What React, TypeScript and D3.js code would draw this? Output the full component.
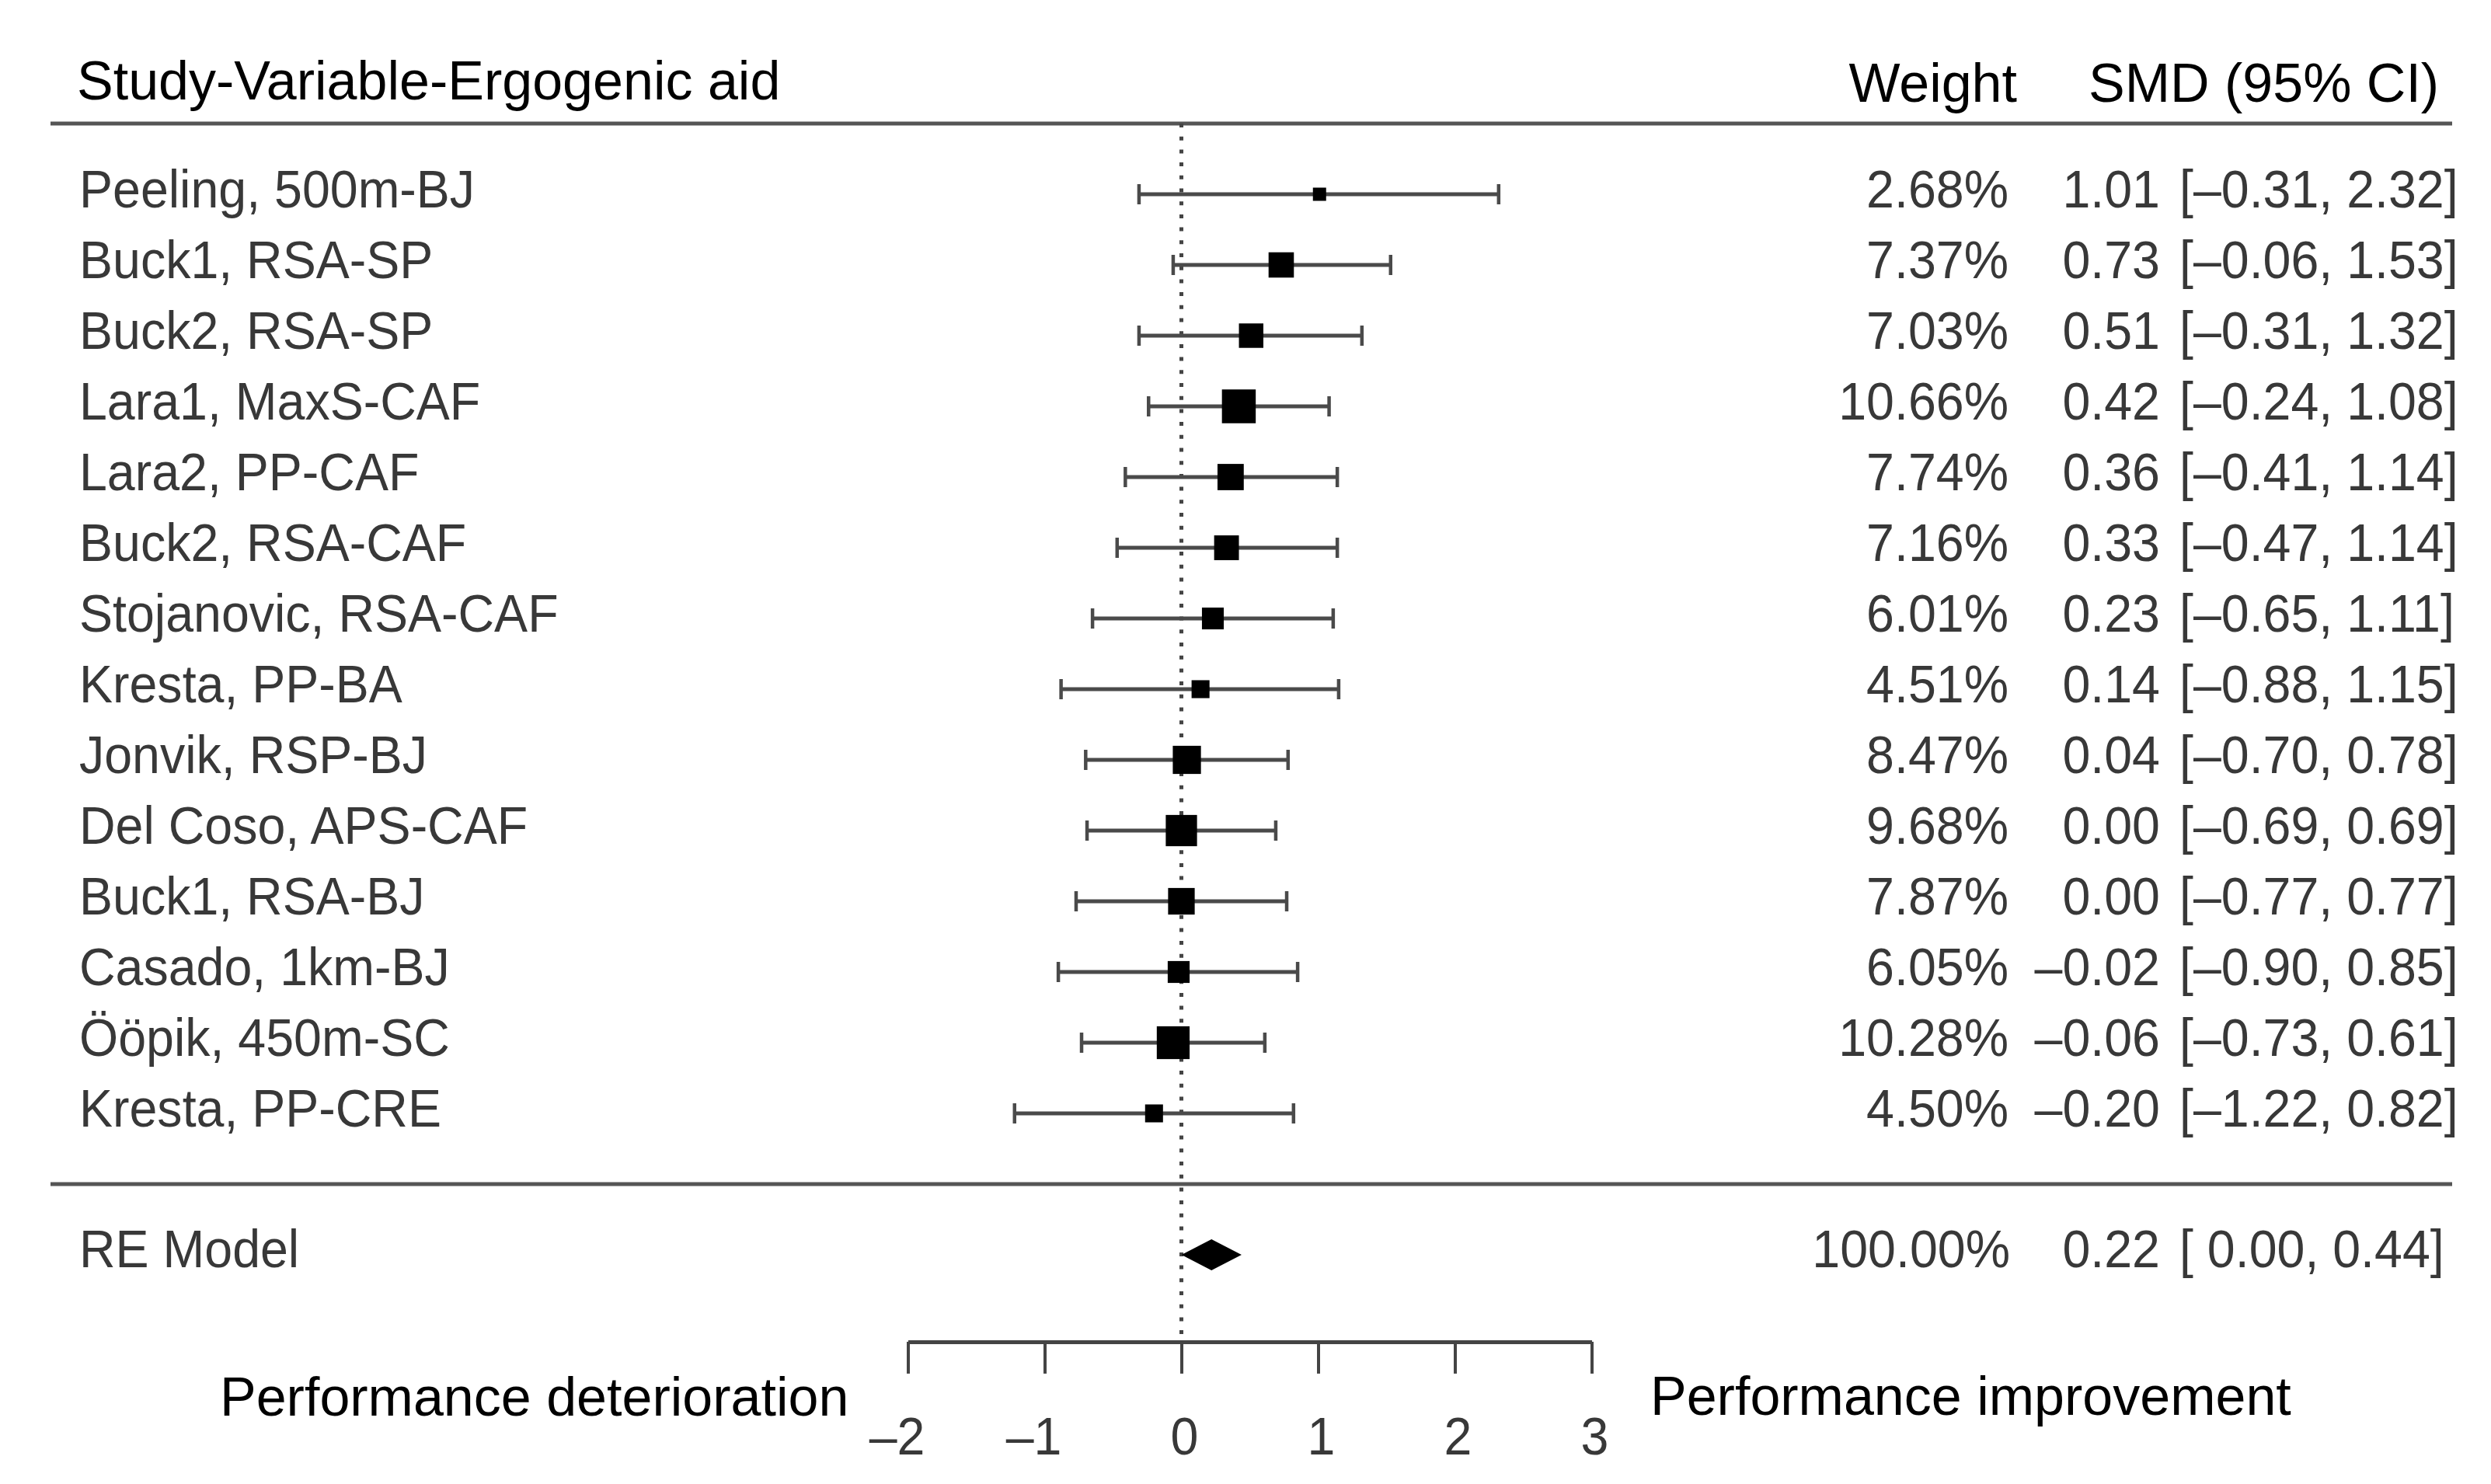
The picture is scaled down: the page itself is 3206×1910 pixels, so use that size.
import { useEffect, useRef } from "react";
import * as d3 from "d3";

// study labels, top to bottom
const studies: string[] = [
  "Peeling, 500m-BJ",
  "Buck1, RSA-SP",
  "Buck2, RSA-SP",
  "Lara1, MaxS-CAF",
  "Lara2, PP-CAF",
  "Buck2, RSA-CAF",
  "Stojanovic, RSA-CAF",
  "Kresta, PP-BA",
  "Jonvik, RSP-BJ",
  "Del Coso, APS-CAF",
  "Buck1, RSA-BJ",
  "Casado, 1km-BJ",
  "Ööpik, 450m-SC",
  "Kresta, PP-CRE",
];
const weights: number[] = [2.68, 7.37, 7.03, 10.66, 7.74, 7.16, 6.01, 4.51, 8.47, 9.68, 7.87, 6.05, 10.28, 4.5];
const smd: number[] = [1.01, 0.73, 0.51, 0.42, 0.36, 0.33, 0.23, 0.14, 0.04, 0.0, 0.0, -0.02, -0.06, -0.2];
const ciLow: number[] = [-0.31, -0.06, -0.31, -0.24, -0.41, -0.47, -0.65, -0.88, -0.7, -0.69, -0.77, -0.9, -0.73, -1.22];
const ciHigh: number[] = [2.32, 1.53, 1.32, 1.08, 1.14, 1.14, 1.11, 1.15, 0.78, 0.69, 0.77, 0.85, 0.61, 0.82];

// random-effects summary
const summaryLabel = "RE Model";
const summary = { est: 0.22, lo: 0.0, hi: 0.44, weight: 100.0 };

const xTicks: number[] = [-2, -1, 0, 1, 2, 3];
const headerLabels = { study: "Study-Variable-Ergogenic aid", weight: "Weight", smd: "SMD (95% CI)" };
const sideLabels = { left: "Performance deterioration", right: "Performance improvement" };

const fmt = (v: number) => (v < 0 ? "\u2013" : "") + Math.abs(v).toFixed(2);
const fmtPad = (v: number) => (v < 0 ? "\u2013" : " ") + Math.abs(v).toFixed(2);

export default function App() {
  const svgRef = useRef<SVGSVGElement | null>(null);

  useEffect(() => {
    const width = 3206;
    const height = 1910;
    const font = "'Liberation Sans', Arial, sans-serif";
    const fs = 69;
    const headFs = 70;
    const squeeze = 0.935; // R part of the figure is slightly compressed horizontally
    const ink = "#383838";

    const svg = d3.select(svgRef.current).attr("width", width).attr("height", height);
    svg.selectAll("*").remove();
    svg.append("rect").attr("width", width).attr("height", height).attr("fill", "#fff");

    const xScale = d3.scaleLinear().domain([-2, 3]).range([1168.5, 2048.5]);
    // row index -> y (header rule at -1, summary rule at n, summary at n+1)
    const yScale = d3.scaleLinear().domain([0, studies.length - 1]).range([250, 1433]);
    const sizeScale = d3
      .scaleLinear()
      .domain(d3.extent(weights) as [number, number])
      .range([17, 43.5]);

    const n = studies.length;
    const yHeadRule = yScale(-1);
    const ySumRule = yScale(n);
    const ySum = yScale(n + 1);
    const axisY = yScale(n + 2.23);
    const left = 65;
    const right = 3156;

    const text = (
      x: number,
      y: number,
      s: string,
      anchor: string,
      sx: number,
      fill: string,
      size = fs
    ) =>
      svg
        .append("text")
        .attr("transform", `translate(${x},${y}) scale(${sx},1)`)
        .attr("text-anchor", anchor)
        .attr("font-family", font)
        .attr("font-size", size)
        .attr("fill", fill)
        .style("white-space", "pre")
        .text(s);

    // headers
    text(99, 128, headerLabels.study, "start", 1, "#000", headFs);
    text(2596, 131, headerLabels.weight, "end", 1, "#000", headFs);
    text(2688, 131, headerLabels.smd, "start", 1, "#000", headFs);

    // rules
    [yHeadRule, ySumRule].forEach((y) => {
      svg
        .append("line")
        .attr("x1", left)
        .attr("x2", right)
        .attr("y1", y)
        .attr("y2", y)
        .attr("stroke", "#555")
        .attr("stroke-width", 5);
    });

    // reference line at 0
    svg
      .append("line")
      .attr("x1", xScale(0))
      .attr("x2", xScale(0))
      .attr("y1", yHeadRule)
      .attr("y2", axisY)
      .attr("stroke", "#444")
      .attr("stroke-width", 5)
      .attr("stroke-dasharray", "5 11.7");

    // study rows
    const rows = svg
      .selectAll("g.row")
      .data(studies.map((s, i) => ({ s, i })))
      .join("g")
      .attr("class", "row");

    rows
      .append("line")
      .attr("x1", (d) => xScale(ciLow[d.i]))
      .attr("x2", (d) => xScale(ciHigh[d.i]))
      .attr("y1", (d) => yScale(d.i))
      .attr("y2", (d) => yScale(d.i))
      .attr("stroke", "#4a4a4a")
      .attr("stroke-width", 5);

    [ciLow, ciHigh].forEach((arr) => {
      rows
        .append("line")
        .attr("x1", (d) => xScale(arr[d.i]))
        .attr("x2", (d) => xScale(arr[d.i]))
        .attr("y1", (d) => yScale(d.i) - 13)
        .attr("y2", (d) => yScale(d.i) + 13)
        .attr("stroke", "#4a4a4a")
        .attr("stroke-width", 4.5);
    });

    rows
      .append("rect")
      .attr("x", (d) => xScale(smd[d.i]) - sizeScale(weights[d.i]) / 2)
      .attr("y", (d) => yScale(d.i) - sizeScale(weights[d.i]) / 2)
      .attr("width", (d) => sizeScale(weights[d.i]))
      .attr("height", (d) => sizeScale(weights[d.i]))
      .attr("fill", "#000");

    studies.forEach((s, i) => {
      const y = yScale(i) + 17;
      text(102, y, s, "start", squeeze, ink);
      text(2585, y, weights[i].toFixed(2) + "%", "end", squeeze, ink);
      text(2780, y, fmt(smd[i]), "end", squeeze, ink);
      text(2805, y, "[" + fmt(ciLow[i]) + ", " + fmt(ciHigh[i]) + "]", "start", squeeze, ink);
    });

    // summary diamond
    const dh = 20;
    svg
      .append("polygon")
      .attr(
        "points",
        [
          [xScale(summary.lo), ySum],
          [xScale(summary.est), ySum - dh],
          [xScale(summary.hi), ySum],
          [xScale(summary.est), ySum + dh],
        ]
          .map((p) => p.join(","))
          .join(" ")
      )
      .attr("fill", "#000");

    text(102, ySum + 16, summaryLabel, "start", squeeze, ink);
    text(2587, ySum + 16, summary.weight.toFixed(2) + "%", "end", squeeze, ink);
    text(2780, ySum + 16, fmt(summary.est), "end", squeeze, ink);
    text(2805, ySum + 16, "[" + fmtPad(summary.lo) + ", " + fmtPad(summary.hi).trim() + "]", "start", squeeze, ink);

    // x axis
    const axis = d3
      .axisBottom(xScale)
      .tickValues(xTicks)
      .tickSize(41)
      .tickSizeOuter(0)
      .tickFormat(() => "");
    const ax = svg.append("g").attr("transform", `translate(0,${axisY})`).call(axis);
    ax.select(".domain").attr("stroke", "#444").attr("stroke-width", 5);
    ax.selectAll(".tick line").attr("stroke", "#444").attr("stroke-width", 4);
    ax.selectAll(".tick text").remove();

    const halfDigit = (0.556 * fs * squeeze) / 2;
    xTicks.forEach((t) => {
      text(xScale(t) + halfDigit + 4, 1872, fmt(t).replace(".00", ""), "end", squeeze, ink);
    });

    text(283, 1822, sideLabels.left, "start", 1, "#000", headFs);
    text(2124, 1821, sideLabels.right, "start", 1, "#000", headFs);
  }, []);

  return (
    <svg
      ref={svgRef}
      style={{ position: "absolute", left: 0, top: 0, display: "block" }}
    ></svg>
  );
}
